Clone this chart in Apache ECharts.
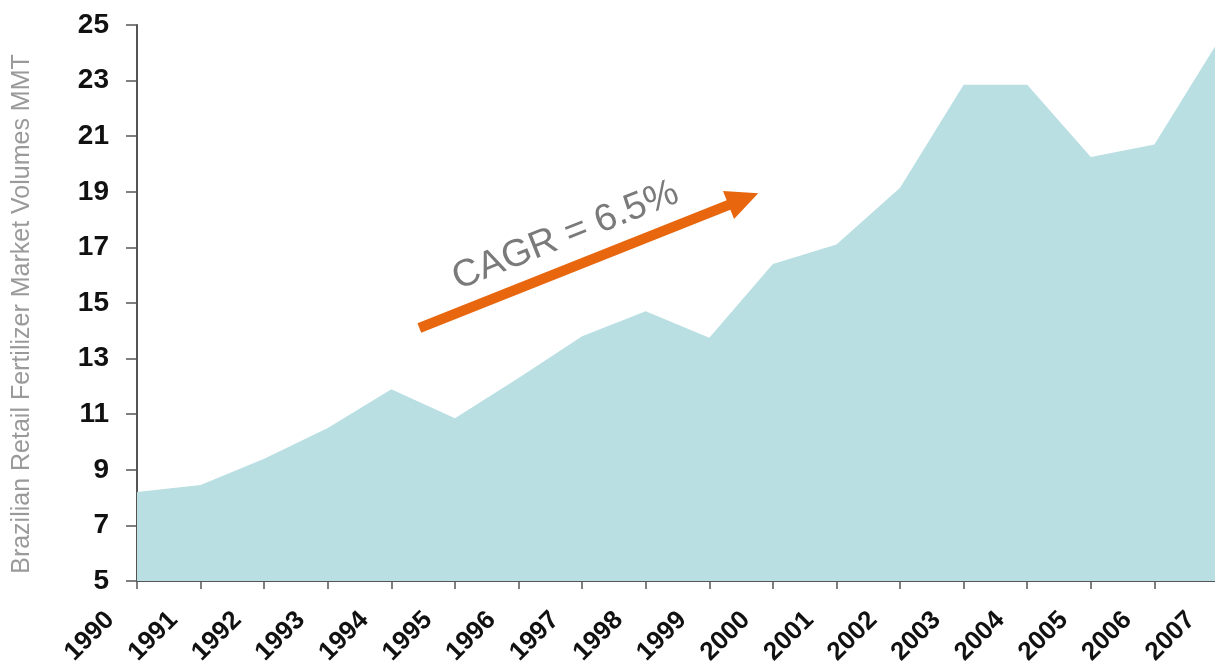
<!DOCTYPE html>
<html>
<head>
<meta charset="utf-8">
<style>
  html, body { margin: 0; padding: 0; background: #ffffff; }
  #chart { width: 1215px; height: 670px; }
</style>
<script src="https://cdn.jsdelivr.net/npm/echarts@6/dist/echarts.min.js"></script>
</head>
<body>
<div id="chart"></div>
<script>
// Brazilian retail fertilizer market volumes, million metric tonnes
const years = ['1990', '1991', '1992', '1993', '1994', '1995', '1996', '1997', '1998',
  '1999', '2000', '2001', '2002', '2003', '2004', '2005', '2006', '2007'];
const volumes = [8.2, 8.45, 9.4, 10.5, 11.9, 10.85, 12.3, 13.8, 14.7,
  13.75, 16.4, 17.1, 19.15, 22.85, 22.85, 20.25, 20.7, 24.4];
const yTicks = [5, 7, 9, 11, 13, 15, 17, 19, 21, 23, 25];

// Growth-trend arrow, given as [category position, value] at tail and tip
const trendTail = [4.44, 14.1];
const trendTip = [9.77, 18.95];
const trendLabel = 'CAGR = 6.5%';
const trendLabelAt = [6.74, 17.42];

const FONT = '"Liberation Sans", Arial, sans-serif';
const chart = echarts.init(document.getElementById('chart'), null, { renderer: 'canvas' });

chart.setOption({
  animation: false,
  backgroundColor: '#ffffff',
  grid: { left: 137, right: -3, top: 25, bottom: 89, containLabel: false, outerBoundsMode: 'none' },
  xAxis: {
    type: 'category',
    data: years,
    boundaryGap: false,
    axisLine: { lineStyle: { color: '#555555', width: 2 } },
    axisTick: { show: true, length: 8, lineStyle: { color: '#555555', width: 1.5 } },
    axisLabel: {
      rotate: 45,
      interval: 0,
      margin: 8,
      padding: [0, 38, 0, 0],
      color: '#111111',
      fontFamily: FONT,
      fontWeight: 'bold',
      fontSize: 26
    },
    splitLine: { show: false }
  },
  yAxis: {
    type: 'value',
    min: 5,
    max: 25,
    name: 'Brazilian Retail Fertilizer Market Volumes MMT',
    nameLocation: 'middle',
    nameRotate: 90,
    nameGap: 102,
    nameTextStyle: { color: '#9a9a9a', fontFamily: FONT, fontSize: 25, padding: [0, 22, 0, 0] },
    axisLine: { show: true, lineStyle: { color: '#555555', width: 2 } },
    axisTick: { show: true, length: 11, customValues: yTicks, lineStyle: { color: '#555555', width: 1.5 } },
    axisLabel: {
      customValues: yTicks,
      margin: 28,
      color: '#111111',
      fontFamily: FONT,
      fontWeight: 'bold',
      fontSize: 28
    },
    splitLine: { show: false }
  },
  series: [{
    type: 'line',
    data: volumes,
    symbol: 'none',
    lineStyle: { width: 0 },
    areaStyle: { color: '#b9dfe3', opacity: 1 },
    z: 1
  }]
});

// Pixel position of a [category position, value] pair, allowing fractional positions
function toPixel(pt) {
  const i0 = Math.floor(pt[0]);
  const f = pt[0] - i0;
  const a = chart.convertToPixel({ gridIndex: 0 }, [i0, pt[1]]);
  const b = chart.convertToPixel({ gridIndex: 0 }, [i0 + 1, pt[1]]);
  return [a[0] + (b[0] - a[0]) * f, a[1]];
}

const T = toPixel(trendTail);
const P = toPixel(trendTip);
const dx = P[0] - T[0], dy = P[1] - T[1];
const len = Math.hypot(dx, dy);
const u = [dx / len, dy / len];
const n = [-u[1], u[0]];
const shaftHalf = 5, headHalf = 15, headLen = 32;
const B = [P[0] - u[0] * headLen, P[1] - u[1] * headLen];
const off = (p, k) => [p[0] + n[0] * k, p[1] + n[1] * k];
const arrowPoints = [
  off(T, shaftHalf), off(B, shaftHalf), off(B, headHalf), P,
  off(B, -headHalf), off(B, -shaftHalf), off(T, -shaftHalf)
];
const L = toPixel(trendLabelAt);
const angle = Math.atan2(-dy, dx);

chart.setOption({
  graphic: [
    {
      type: 'polygon',
      shape: { points: arrowPoints },
      style: { fill: '#e8660d' },
      z: 10
    },
    {
      type: 'text',
      x: L[0],
      y: L[1],
      rotation: angle,
      style: {
        text: trendLabel,
        fill: '#7a7a7a',
        font: '38px ' + FONT,
        textAlign: 'center',
        textVerticalAlign: 'middle'
      },
      z: 10
    }
  ]
});
</script>
</body>
</html>
